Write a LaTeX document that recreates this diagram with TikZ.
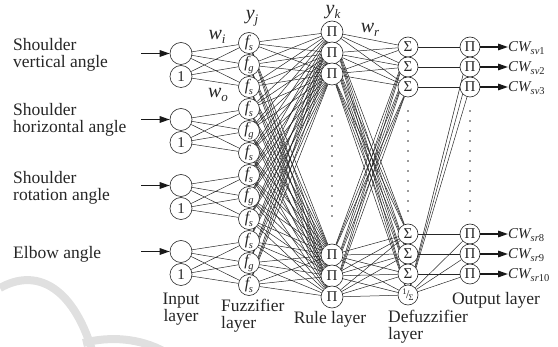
\documentclass[tikz,border=0pt]{standalone}
\usepackage{fontspec}
\setmainfont{Liberation Serif}
\usetikzlibrary{arrows.meta}
\pgfdeclarelayer{background}
\pgfsetlayers{background,main}
\newcommand{\fsub}[2]{{\fontsize{16}{16}\selectfont\itshape #1\kern-0.5pt\raisebox{-0.5ex}{\fontsize{10.5}{10.5}\selectfont #2}}}
\newcommand{\bigsub}[2]{{\fontsize{20}{20}\selectfont\itshape #1\raisebox{-0.45ex}{\fontsize{13}{13}\selectfont #2}}}
\newcommand{\cwlab}[2]{{\fontsize{15}{15}\selectfont\itshape CW\raisebox{-0.55ex}{\fontsize{10.5}{10.5}\selectfont #1\upshape #2}}}
\newcommand{\invsig}{{\raisebox{0.55ex}{\fontsize{8.5}{8.5}\selectfont 1}\kern-0.6pt{\fontsize{12}{12}\selectfont/}\kern-0.8pt\raisebox{-0.35ex}{\fontsize{8.5}{8.5}\selectfont Σ}}}
\begin{document}
\begin{tikzpicture}[x=1pt,y=-1pt,
  nd/.style={circle,draw=black!85,fill=white,line width=0.6pt,inner sep=0pt,minimum size=#1,
    text=black!85,font=\fontsize{15}{15}\selectfont},
  conn/.style={draw=black!85,line width=0.5pt},
  bigarrow/.style={draw=black!90,line width=1.5pt,-{Triangle[length=10pt,width=6.5pt]}},
  lab/.style={text=black!85,font=\fontsize{17.5}{17}\selectfont,inner sep=0pt},
  dotcol/.style={fill=black!80}]
\useasboundingbox (0,0) rectangle (558,347);
\begin{pgfonlayer}{background}
% faint watermark arcs
\draw[line width=8pt,black!12] (0,288) .. controls (35,268) and (72,285) .. (92,350);
\draw[line width=8pt,black!12] (83,343) .. controls (110,336) and (140,338) .. (165,352);
\end{pgfonlayer}
% input layer
\foreach \g/\c in {1/65,2/131,3/197,4/263} {
  \node[nd=22pt] (x\g) at (181,\c-11.5) {};
  \node[nd=22pt] (b\g) at (181,\c+11.5) {1};
  \coordinate (ia\g) at (141,\c-11.5);
  \draw[bigarrow] (ia\g) -- (x\g);
}
% fuzzifier layer
\foreach \k/\t in {1/s,2/g,3/s,4/s,5/g,6/s,7/s,8/g,9/s,10/s,11/g,12/s} {
  \node[nd=21pt] (f\k) at (249,43+22*\k-22) {\fsub{f}{\t}};
}
% rule layer
\foreach \k/\yy in {1/32,2/53,3/74,4/255,5/276,6/297} {
  \node[nd=22pt] (r\k) at (332,\yy) {Π};
}
% defuzzifier layer
\foreach \k/\yy in {1/47,2/67,3/87,4/234,5/254,6/274} {
  \node[nd=20pt] (d\k) at (408,\yy) {Σ};
}
\node[nd=20pt] (d7) at (408,295) {\invsig};
% output layer
\foreach \k/\yy/\s/\n in {1/47/sv/1,2/67/sv/2,3/87/sv/3,4/234/sr/8,5/254/sr/9,6/274/sr/10} {
  \node[nd=20pt] (o\k) at (470,\yy) {Π};
  \node[anchor=west,inner sep=0pt,text=black!85] (c\k) at (508,\yy+1) {\cwlab{\s}{\n}};
  \draw[bigarrow] (o\k) -- (o\k -| c\k.west);
}
\begin{pgfonlayer}{background}
% connections input -> fuzzifier
\foreach \g in {1,...,4} {
  \foreach \j in {1,2,3} {
    \pgfmathtruncatemacro\kk{3*(\g-1)+\j}
    \draw[conn] (x\g) -- (f\kk);
    \draw[conn] (b\g) -- (f\kk);
  }
}
% fuzzifier -> rule
\foreach \k in {1,...,12} {
  \foreach \r in {1,...,6} {
    \draw[conn] (f\k) -- (r\r);
  }
}
% rule -> defuzzifier
\foreach \r in {1,...,6} {
  \foreach \d in {1,...,7} {
    \draw[conn] (r\r) -- (d\d);
  }
}
% defuzzifier -> output
\foreach \k in {1,...,6} {
  \draw[conn] (d\k) -- (o\k);
  \draw[conn] (d7) -- (o\k);
}
\end{pgfonlayer}
% dots
\foreach \yy in {116,126,...,216} { \fill[dotcol] (332,\yy) circle (0.8pt); }
\foreach \yy in {111,121,...,211} { \fill[dotcol] (408,\yy) circle (0.8pt); \fill[dotcol] (470,\yy) circle (0.8pt); }
% weight labels
\node[text=black!85,inner sep=0pt] (lyj) at (252,18) {\bigsub{y}{j}};
\node[text=black!85,inner sep=0pt] (lyk) at (333,12) {\bigsub{y}{k}};
\node[text=black!85,inner sep=0pt] (lwr) at (370,30) {\bigsub{w}{r}};
\node[text=black!85,inner sep=0pt] (lwi) at (217,37) {\bigsub{w}{i}};
\node[text=black!85,inner sep=0pt] (lwo) at (218,95) {\bigsub{w}{o}};
% left labels
\node[lab,anchor=west,align=left] (t1) at (13,55) {Shoulder\\vertical angle};
\node[lab,anchor=west,align=left] (t2) at (13,120) {Shoulder\\horizontal angle};
\node[lab,anchor=west,align=left] (t3) at (13,188) {Shoulder\\rotation angle};
\node[lab,anchor=west,align=left] (t4) at (13,254) {Elbow angle};
% bottom labels
\node[lab,align=center] (L1) at (181,309) {Input\\layer};
\node[lab,anchor=west,align=left] (L2) at (221,316) {Fuzzifier\\layer};
\node[lab] (L3) at (330,319) {Rule layer};
\node[lab,anchor=west,align=left] (L4) at (388,327) {Defuzzifier\\layer};
\node[lab] (L5) at (496,300) {Output layer};
\end{tikzpicture}
\end{document}
